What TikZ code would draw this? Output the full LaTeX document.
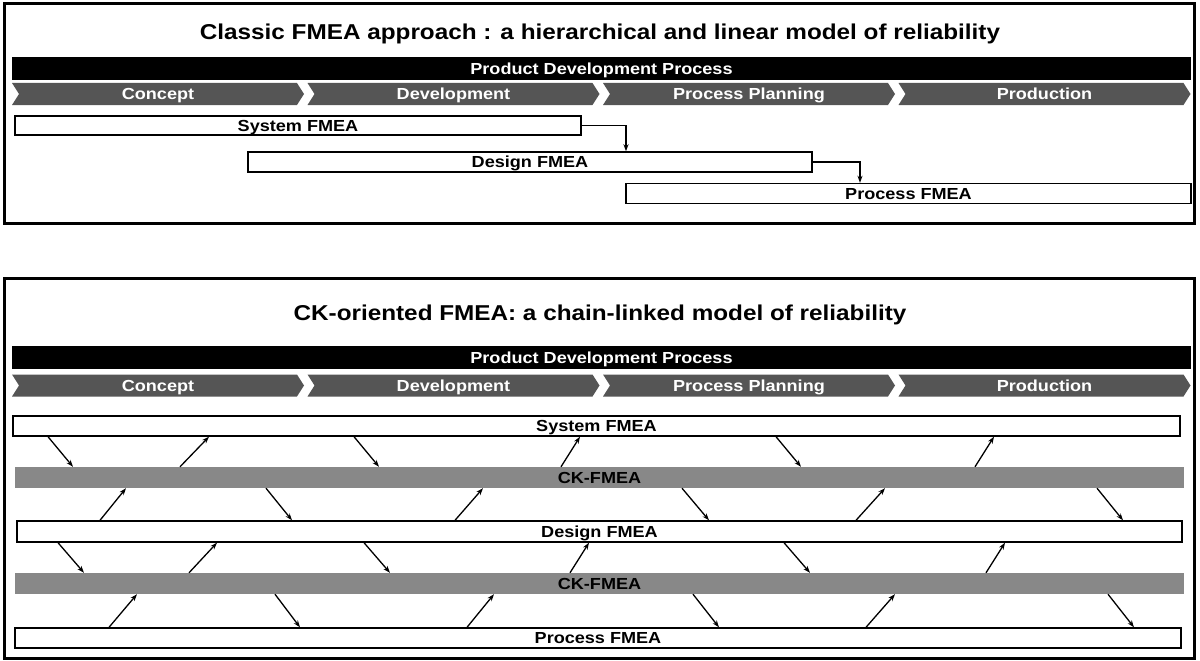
\documentclass[tikz,border=0pt]{standalone}
\usepackage{fontspec}
\setmainfont{Liberation Sans}
\newfontfamily\figfont[FakeStretch=1.13]{Liberation Sans}
\usepackage{tikz}
\usetikzlibrary{arrows.meta,shapes.symbols}
\definecolor{phasegray}{HTML}{555555}
\definecolor{ckgray}{HTML}{888888}

\begin{document}
\begin{tikzpicture}[x=1pt,y=-1pt,
		frame/.style={draw,line width=3pt},
		title/.style={anchor=base,font=\figfont\bfseries\fontsize{21.5}{24}\selectfont},
		label/.style={inner sep=0pt,text height=11.5pt,text depth=0pt,font=\figfont\bfseries\fontsize{16}{18}\selectfont},
		pdp/.style={label,fill=black,text=white,minimum width=1179pt,minimum height=23pt},
		phase/.style={label,signal,signal to=east,signal from=west,signal pointer angle=115,fill=phasegray,text=white,minimum width=292pt,minimum height=22pt},
		fmea/.style={label,draw,fill=white,line width=1.4pt},
		ckbar/.style={label,fill=ckgray},
		link/.style={-{Stealth[length=7pt,width=5pt]},line width=1.3pt}]
		\useasboundingbox (0,0) rectangle (1200,661);

		% classic FMEA
		\draw[frame] (4,4) rectangle (1194,223);
		\node[title] (titleA) at (600,40) {Classic FMEA approach : a hierarchical and linear model of reliability};
		\node[pdp] (pdpA) at (601.5,68.5) {Product Development Process};
		\node[phase] (conceptA) at (158,94) {Concept};
		\node[phase] (developA) at (453.5,94) {Development};
		\node[phase] (planA) at (749,94) {Process Planning};
		\node[phase] (prodA) at (1044.5,94) {Production};
		\node[fmea,minimum width=566pt,minimum height=19pt] (sysA) at (298,125.5) {System FMEA};
		\node[fmea,minimum width=564pt,minimum height=20pt] (desA) at (530,162) {Design FMEA};
		\node[fmea,minimum width=565pt,minimum height=20pt] (procA) at (908.5,193.5) {Process FMEA};
		\draw[link] (sysA.east) -| (desA.north -| 626,0);
		\draw[link] (desA.east) -| (procA.north -| 860,0);

		% CK-oriented FMEA
		\draw[frame] (4,278) rectangle (1194,658);
		\node[title] (titleB) at (600,320) {CK-oriented FMEA: a chain-linked model of reliability};
		\node[pdp] (pdpB) at (601.5,357.5) {Product Development Process};
		\node[phase] (conceptB) at (158,385.5) {Concept};
		\node[phase] (developB) at (453.5,385.5) {Development};
		\node[phase] (planB) at (749,385.5) {Process Planning};
		\node[phase] (prodB) at (1044.5,385.5) {Production};
		\node[fmea,minimum width=1167pt,minimum height=20pt] (sysB) at (596.5,426) {System FMEA};
		\node[ckbar,minimum width=1169pt,minimum height=21pt] (ckA) at (599.5,477.5) {CK-FMEA};
		\node[fmea,minimum width=1165pt,minimum height=21pt] (desB) at (599.5,531.5) {Design FMEA};
		\node[ckbar,minimum width=1169pt,minimum height=21pt] (ckB) at (599.5,583.5) {CK-FMEA};
		\node[fmea,minimum width=1166pt,minimum height=20pt] (procB) at (598,638) {Process FMEA};

		\foreach \a/\b in {48/73,354/379,776/801}
			\draw[link] (sysB.south -| \a,0) -- (ckA.north -| \b,0);
		\foreach \a/\b in {180/209,561/580,975/994}
			\draw[link] (ckA.north -| \a,0) -- (sysB.south -| \b,0);
		\foreach \a/\b in {100/126,455/483,856/885}
			\draw[link] (desB.north -| \a,0) -- (ckA.south -| \b,0);
		\foreach \a/\b in {266/292,682/709,1097/1123}
			\draw[link] (ckA.south -| \a,0) -- (desB.north -| \b,0);
		\foreach \a/\b in {58/84,364/390,784/810}
			\draw[link] (desB.south -| \a,0) -- (ckB.north -| \b,0);
		\foreach \a/\b in {189/217,570/589,986/1005}
			\draw[link] (ckB.north -| \a,0) -- (desB.south -| \b,0);
		\foreach \a/\b in {109/137,467/494,866/895}
			\draw[link] (procB.north -| \a,0) -- (ckB.south -| \b,0);
		\foreach \a/\b in {275/300,693/719,1108/1134}
			\draw[link] (ckB.south -| \a,0) -- (procB.north -| \b,0);
	\end{tikzpicture}
\end{document}
